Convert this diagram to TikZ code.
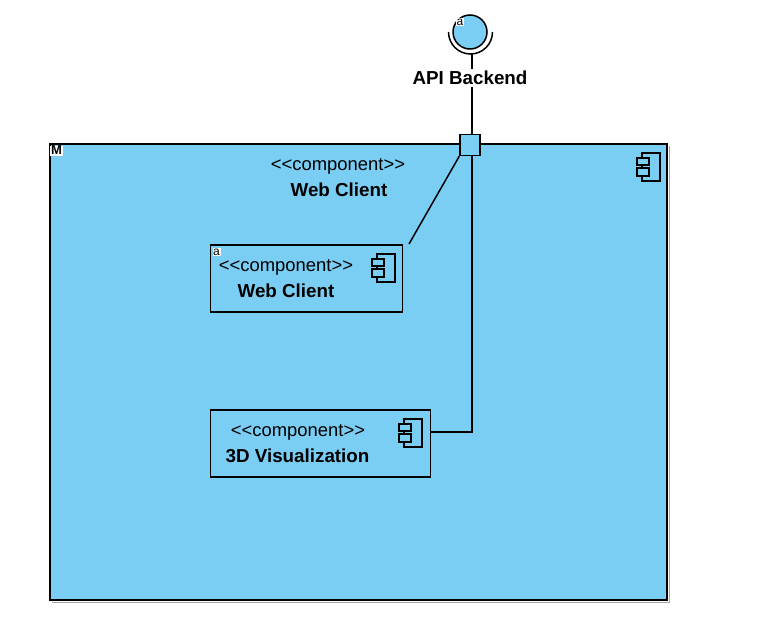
\documentclass[tikz,border=0pt]{standalone}
\usepackage{fontspec}
\setmainfont{Liberation Sans}
\usetikzlibrary{positioning}
\definecolor{softSky}{RGB}{122,206,244}
\newcommand{\compicon}[2]{%
\draw[iconline] (#1+5,#2) rectangle (#1+23,#2+28);
\draw[iconline,fill=softSky] (#1,#2+5) rectangle (#1+12,#2+12);
\draw[iconline,fill=softSky] (#1,#2+15) rectangle (#1+12,#2+23);
}
\tikzset{
  boxline/.style={draw=black,line width=1.5pt,inner sep=0pt},
  iconline/.style={draw=black,line width=1.5pt},
  wire/.style={draw=black,line width=1.5pt},
  stereo/.style={font=\fontsize{18.4}{22}\selectfont,inner sep=0pt},
  titletext/.style={font=\fontsize{18.8}{22}\selectfont\bfseries,inner sep=0pt},
  tagbox/.style={fill=white,inner sep=0pt,minimum width=8pt,minimum height=8pt,font=\fontsize{12}{12}\selectfont}
}
\begin{document}
\begin{tikzpicture}[x=1pt,y=-1pt]
\useasboundingbox (0,0) rectangle (768,626);
\fill[black!35] (668.5,146) rectangle (669.5,602);
\fill[black!35] (52,601.5) rectangle (669.5,602.5);
\node[boxline,fill=softSky,minimum width=617pt,minimum height=456pt] (outer) at (358.5,372) {};
\node[stereo] (outerStereo) at (338,166.5) {<{}<component>{}>};
\node[titletext] (outerName) at (339,190) {Web Client};
\compicon{637}{153}
\node[fill=white,inner sep=0pt,minimum width=13pt,minimum height=10pt,font=\fontsize{13}{13}\selectfont\bfseries] (outerTag) at (56.5,150.5) {M};
\node[boxline,minimum width=192pt,minimum height=67pt] (client) at (306.5,278.5) {};
\node[stereo] (clientStereo) at (286,267.5) {<{}<component>{}>};
\node[titletext] (clientName) at (286,291) {Web Client};
\compicon{372}{254}
\node[tagbox] (clientTag) at (216.5,252) {a};
\node[boxline,minimum width=220pt,minimum height=67pt] (vis) at (320.5,443.5) {};
\node[stereo] (visStereo) at (298,432.5) {<{}<component>{}>};
\node[titletext] (visName) at (297.5,456) {3D Visualization};
\compicon{399}{419}
\draw[wire] (472,54) -- (472,134);
\node[boxline,fill=softSky,minimum width=20pt,minimum height=21pt] (port) at (470,145) {};
\node[circle,boxline,fill=softSky,minimum size=34pt] (iface) at (470,32) {};
\node[tagbox] (ifaceTag) at (460,22) {a};
\draw[wire] (448.5,32) arc[start angle=180,end angle=0,radius=22];
\coordinate (clientEnd) at (409,244);
\draw[wire] (port.south west) -- (clientEnd);
\draw[wire] ([xshift=2pt]port.south) |- ([yshift=11.5pt]vis.east);
\node[titletext,fill=white,inner ysep=2pt] (ifaceName) at (470,78) {API Backend};
\end{tikzpicture}
\end{document}
